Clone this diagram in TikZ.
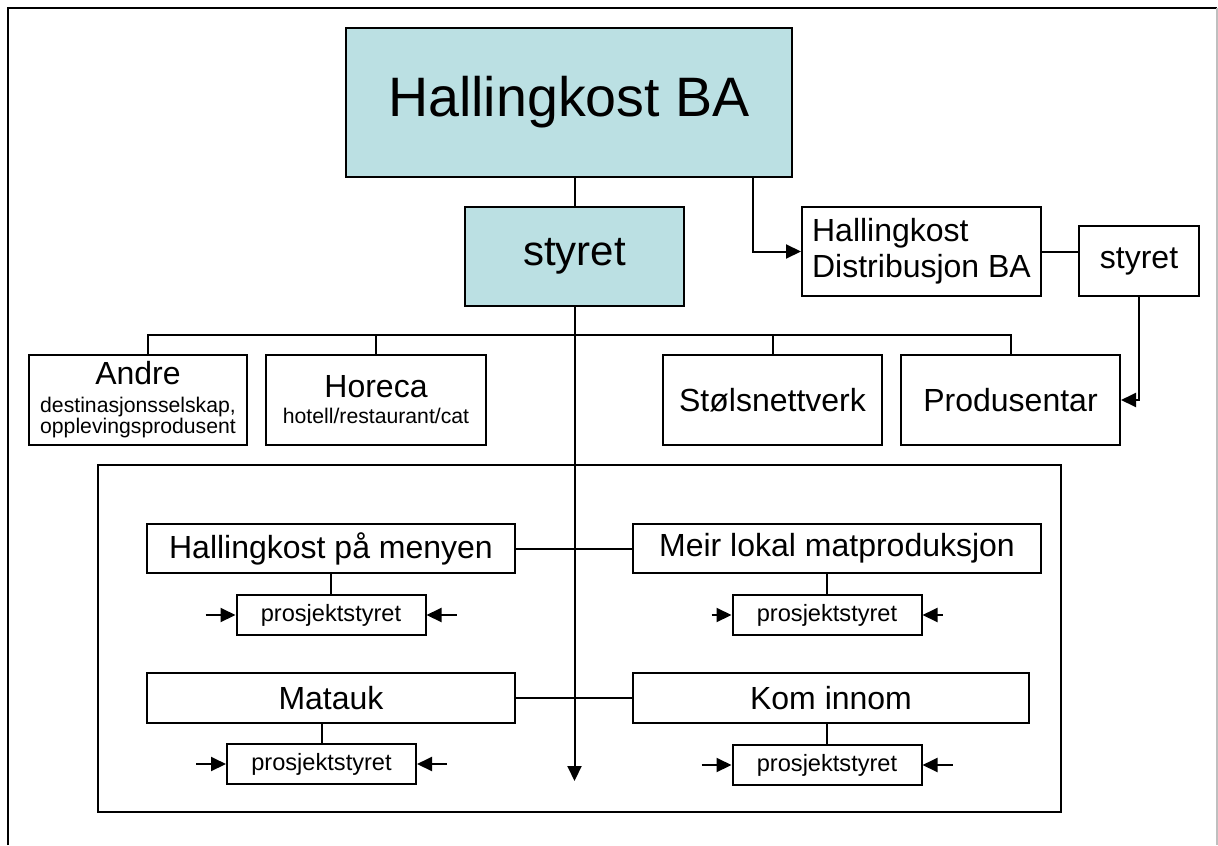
\documentclass[tikz,border=0pt]{standalone}
\usepackage{fontspec}
\setmainfont{Liberation Sans}
\usepackage{tikz}
\usetikzlibrary{arrows.meta,positioning}
\definecolor{hkteal}{RGB}{187,224,227}
\newcommand{\hksmall}{\fontsize{10.6}{10.5}\selectfont}

\begin{document}
\begin{tikzpicture}[
    x=1pt, y=-1pt,
    topbox/.style={draw, fill=hkteal, inner sep=0pt},
    orgbox/.style={draw, fill=white, inner sep=0pt, minimum height=45pt, font=\fontsize{16}{18}\selectfont},
    twoline/.style={orgbox, align=center, font=\fontsize{16}{10.5}\selectfont},
    projbox/.style={draw, fill=white, inner sep=0pt, minimum height=24.5pt, font=\fontsize{16}{18}\selectfont},
    psbox/.style={draw, fill=white, inner sep=0pt, minimum width=94.5pt, minimum height=20pt, font=\fontsize{11.8}{13}\selectfont},
    >={Triangle[length=7.5pt,width=7pt]},
    line width=1pt,
    node distance=10pt
]
    \useasboundingbox (0,0) rectangle (609,422.5);
    \draw (4,422.5) -- (4,4) -- (608.5,4);
    \draw[gray!50] (608.5,4) -- (608.5,422.5);

    \node[topbox, minimum width=223pt, minimum height=74.5pt, font=\fontsize{27.8}{33}\selectfont] (hk) at (284.5,51.25) {Hallingkost BA};
    \node[topbox, minimum width=109.5pt, minimum height=49.5pt, font=\fontsize{21}{25}\selectfont] (st) at (287.25,128.25) {styret};
    \node[orgbox, minimum width=119.5pt, minimum height=44.5pt, align=left] (dist) at (460.75,125.75) {Hallingkost\\Distribusjon BA};
    \node[orgbox, minimum width=60pt, minimum height=35pt] (dst) at (569.5,130.5) {styret};

    \node[twoline, minimum width=109pt] (andre) at (69,200) {Andre\\[3.5pt]\hksmall destinasjonsselskap,\\\hksmall opplevingsprodusent};
    \node[twoline, minimum width=110pt] (horeca) at (188,200) {Horeca\\[2.5pt]\hksmall hotell/restaurant/cat};
    \node[orgbox, minimum width=109.5pt] (stol) at (386.25,200) {Stølsnettverk};
    \node[orgbox, minimum width=109.5pt] (prod) at (505.25,200) {Produsentar};

    \coordinate (bus) at (0,167.5);
    \draw ([xshift=5pt]andre.north) -- ([xshift=5pt]andre.north |- bus) -- (prod.north |- bus) -- (prod.north);
    \foreach \n in {horeca, stol}
        \draw (\n.north |- bus) -- (\n.north);

    \draw (st.north |- hk.south) -- (st.north);
    \draw[->] ([xshift=92pt]hk.south) |- (dist.west);
    \draw (dist.east) -- (dist.east -| dst.west);
    \draw[->] (dst.south) |- (prod.east);

    % project frame
    \draw (49,232.5) rectangle (530.5,406);
    \coordinate (stend) at (287.25,390.5);
    \draw[->] (st.south) -- (stend);

    \node[projbox, minimum width=184pt] (meny) at (165.5,274.25) {Hallingkost på menyen};
    \node[projbox, minimum width=204pt] (meir) at (418.5,274.25) {Meir lokal matproduksjon};
    \node[projbox, minimum width=184pt, minimum height=25pt] (matauk) at (165.5,349) {Matauk};
    \node[projbox, minimum width=198pt, minimum height=25pt] (kom) at (415.5,349) {Kom innom};
    \draw (meny) -- (meir);
    \draw (matauk) -- (kom);

    \node[psbox, below=10pt of meny] (ps1) {prosjektstyret};
    \node[psbox, below=10pt of meir, xshift=-5pt] (ps2) {prosjektstyret};
    \node[psbox, below=9.5pt of matauk, xshift=-4.75pt] (ps3) {prosjektstyret};
    \node[psbox, below=10pt of kom, xshift=-2pt] (ps4) {prosjektstyret};

    \foreach \a/\b in {meny/ps1, meir/ps2, matauk/ps3, kom/ps4}
        \draw (\b.north |- \a.south) -- (\b.north);

    \foreach \p/\d in {ps1/15pt, ps2/10pt, ps3/15pt, ps4/15pt} {
        \coordinate (\p-l) at ([xshift=-\d]\p.west);
        \coordinate (\p-r) at ([xshift=\d]\p.east);
        \draw[->] (\p-l) -- (\p.west);
        \draw[->] (\p-r) -- (\p.east);
    }
\end{tikzpicture}
\end{document}
